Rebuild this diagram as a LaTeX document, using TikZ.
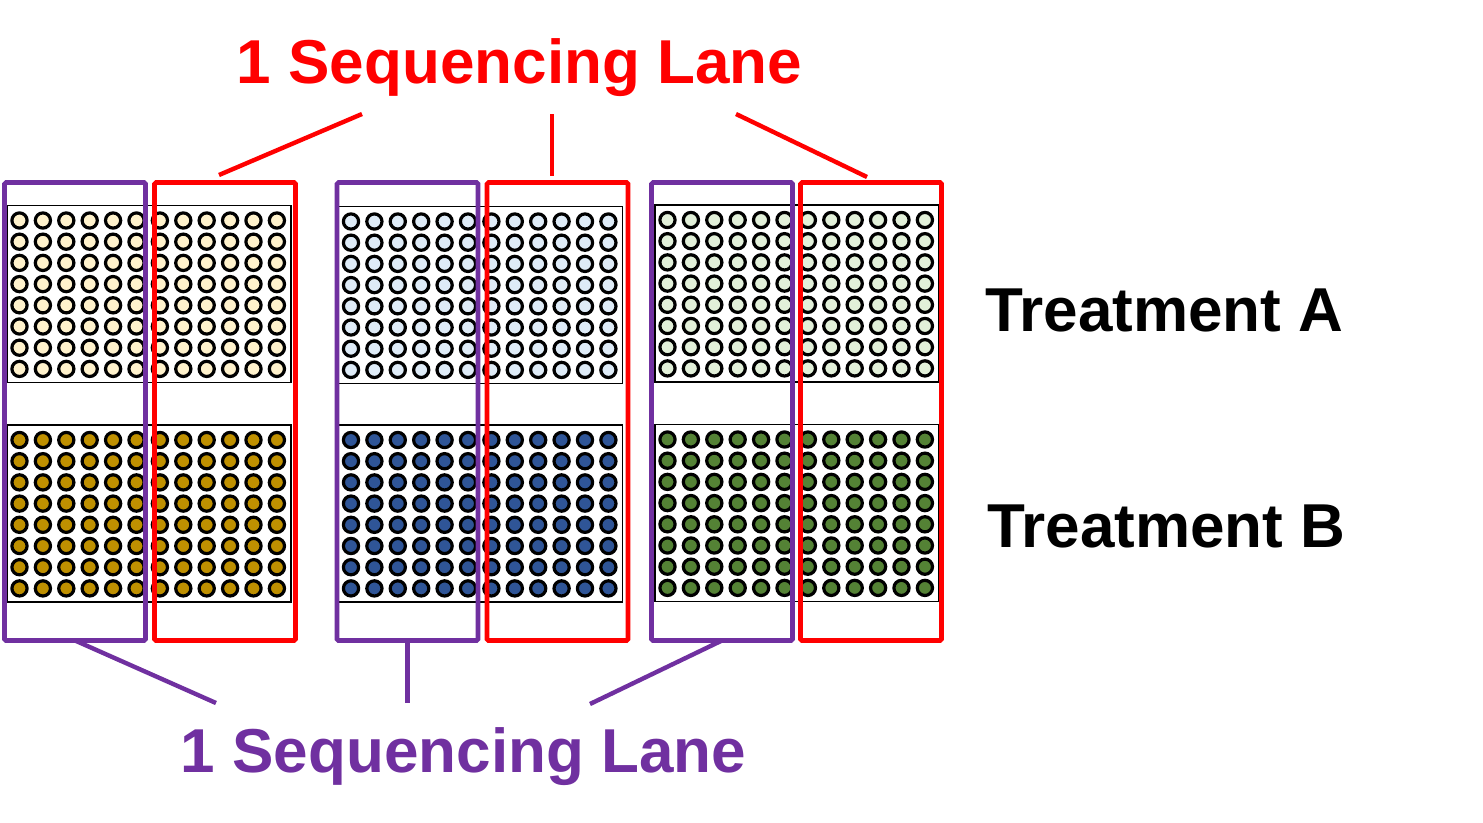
\documentclass[tikz,border=0pt]{standalone}
\usepackage{fontspec}
\setmainfont{Liberation Sans}
\definecolor{lanered}{RGB}{255,0,0}
\definecolor{lanepurple}{RGB}{112,48,160}
\definecolor{yellowlight}{RGB}{255,242,204}
\definecolor{golddark}{RGB}{191,144,0}
\definecolor{bluelight}{RGB}{222,235,247}
\definecolor{bluedark}{RGB}{47,85,151}
\definecolor{greenlight}{RGB}{226,240,217}
\definecolor{greendark}{RGB}{84,130,53}
\tikzset{
  plate/.style={draw=black, line width=1.3pt, fill=white, inner sep=0pt, outer sep=0pt,
    minimum width=284, minimum height=177, anchor=north west},
  well/.style={draw=black, line width=3.2pt},
  lanebox/.style={draw=#1, line width=4.6pt, rounded corners=1.5pt, inner sep=0pt, outer sep=0pt,
    minimum width=141, minimum height=458},
  laneline/.style={draw=#1, line width=4.4pt},
  bigtext/.style={font=\fontsize{62}{74}\selectfont\bfseries, text=#1, inner sep=0pt},
}
\newcommand\myplate[4]{%
  \node[plate] (#1) at (#2,#3) {};
  \foreach \i in {0,...,11}{
    \foreach \j in {0,...,7}{
      \draw[well, fill=#4] ({#2+12.5+23.4*\i},{#3+15+21.2*\j}) circle[radius=7.6pt];
    }
  }%
}
\begin{document}
\begin{tikzpicture}[x=1pt,y=-1pt]
\useasboundingbox (0,0) rectangle (1483,822);
\fill[white] (0,0) rectangle (1483,822);

% plates
\myplate{pa1}{7}{205.5}{yellowlight}
\myplate{pb1}{7}{425}{golddark}
\myplate{pa2}{338.5}{206.5}{bluelight}
\myplate{pb2}{338.5}{425}{bluedark}
\myplate{pa3}{655}{205}{greenlight}
\myplate{pb3}{655}{424.5}{greendark}

% lane boxes
\node[lanebox=lanepurple] (p1) at (75,411.5) {};
\node[lanebox=lanered]    (r1) at (225,411.5) {};
\node[lanebox=lanepurple] (p2) at (407.5,411.5) {};
\node[lanebox=lanered]    (r2) at (557.5,411.5) {};
\node[lanebox=lanepurple] (p3) at (722,411.5) {};
\node[lanebox=lanered]    (r3) at (871,411.5) {};

% titles
\node[bigtext=lanered, anchor=base] (rt) at (519.5,83) {1 Sequencing Lane};
\node[bigtext=lanepurple, anchor=base] (pt) at (463.5,772) {1 Sequencing Lane};
\node[bigtext=black, anchor=base west] (ta) at (985,331) {Treatment A};
\node[bigtext=black, anchor=base west] (tb) at (987,547) {Treatment B};

% connector end points
\coordinate (rt1) at (362,114);
\coordinate (rt2) at (552,114);
\coordinate (rt3) at (736,114);
\coordinate (rb1) at (219,175);
\coordinate (rb2) at (552,176);
\coordinate (rb3) at (867,177);
\coordinate (pb1e) at (216,703);
\coordinate (pb2e) at (407.5,703);
\coordinate (pb3e) at (590,704);

% red connectors
\draw[laneline=lanered] (rt1) -- (rb1);
\draw[laneline=lanered] (rt2) -- (rb2);
\draw[laneline=lanered] (rt3) -- (rb3);
% purple connectors
\draw[laneline=lanepurple] (p1.south) -- (pb1e);
\draw[laneline=lanepurple] (p2.south) -- (pb2e);
\draw[laneline=lanepurple] (p3.south) -- (pb3e);
\end{tikzpicture}
\end{document}
